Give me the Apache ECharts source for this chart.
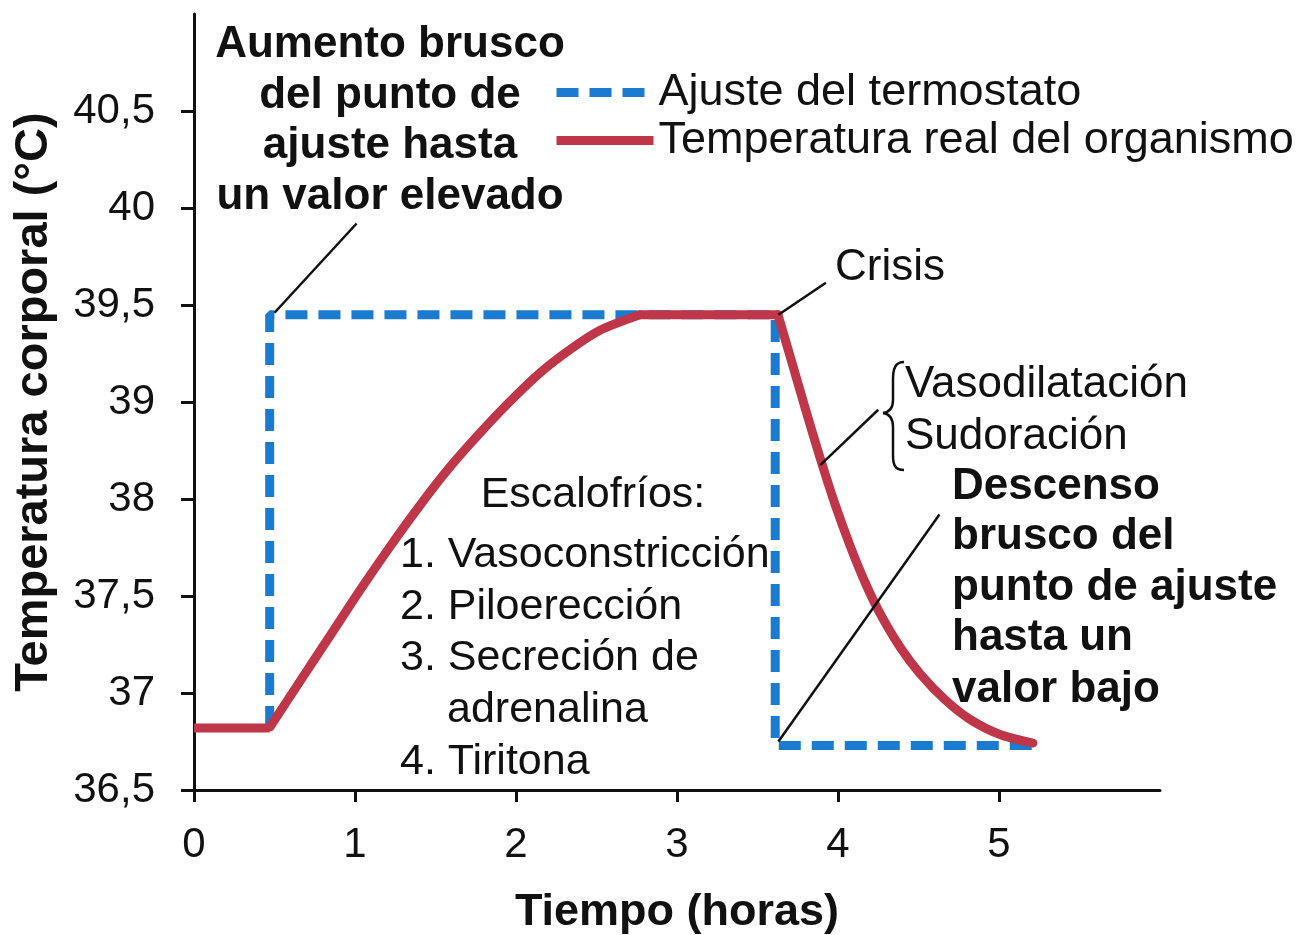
<!DOCTYPE html>
<html><head><meta charset="utf-8">
<script src="https://cdn.jsdelivr.net/npm/echarts@6/dist/echarts.min.js"></script>
<style>html,body{margin:0;padding:0;background:#fff}#c{width:1306px;height:935px}</style>
</head><body><div id="c"></div>
<script>
// ---- data ----
const yTickLabels = ['36,5','37','37,5','38','39','39,5','40','40,5'];
const yTickTemps  = [36.5, 37, 37.5, 38, 39, 39.5, 40, 40.5];
const xTicks = [0, 1, 2, 3, 4, 5];
const seriesNames = ['Ajuste del termostato', 'Temperatura real del organismo'];

// thermostat set point (blue dashed)
const setpointTime = [0.47, 0.47, 3.61, 3.61, 5.21];
const setpointTemp = [36.82, 39.45, 39.45, 36.73, 36.73];

// body temperature (red): baseline, rise, plateau, fall
const baseTime = [0, 0.47];
const baseTemp = [36.82, 36.82];
const riseTime = [0.472, 0.658, 0.845, 1.031, 1.217, 1.404, 1.590, 1.776, 1.963, 2.149, 2.335, 2.522, 2.770];
const riseTemp = [36.825, 37.06, 37.295, 37.53, 37.754, 37.968, 38.33, 38.68, 39.003, 39.15, 39.27, 39.37, 39.45];
const plateauTime = [2.77, 3.627];
const plateauTemp = [39.45, 39.45];
const fallTime = [3.627, 3.702, 3.795, 3.888, 3.981, 4.075, 4.168, 4.261, 4.385, 4.509, 4.665, 4.820, 5.006, 5.211];
const fallTemp = [39.45, 39.237, 38.943, 38.428, 37.974, 37.759, 37.57, 37.41, 37.237, 37.10, 36.965, 36.864, 36.786, 36.742];

// leader lines [time1, temp1, time2, temp2]
const leaderLines = [
  [1.01, 39.92, 0.50, 39.46],
  [3.63, 39.45, 3.925, 39.615],
  [3.89, 38.35, 4.25, 38.92],
  [3.63, 36.75, 4.63, 37.92]
];

// temperature -> position on the (uneven) printed scale
function yi(t) {
  const n = yTickTemps.length;
  for (let i = 0; i < n - 1; i++) {
    if (t <= yTickTemps[i + 1]) return i + (t - yTickTemps[i]) / (yTickTemps[i + 1] - yTickTemps[i]);
  }
  return (n - 1) + (t - yTickTemps[n - 1]) / (yTickTemps[n - 1] - yTickTemps[n - 2]);
}
const zip = (xs, ts) => xs.map((x, i) => [x, yi(ts[i])]);

const FONT = '"Liberation Sans", Arial, Helvetica, sans-serif';
const INK = '#111';
const BLUE = '#1a7bd0';
const RED = '#bf3648';
const LW = 9;

function txt(s, x, y, size, bold, align) {
  return { type: 'text', z: 50, style: {
    text: s, x: x, y: y, fill: INK,
    font: (bold ? 'bold ' : '') + size + 'px ' + FONT,
    textAlign: align || 'left', textVerticalAlign: 'middle'
  }};
}
const braceStyle = { fill: null, stroke: INK, lineWidth: 2.5 };
function bz(x1, y1, cx1, cy1, cx2, cy2, x2, y2) {
  return { type: 'bezierCurve', z: 50, shape: { x1, y1, cpx1: cx1, cpy1: cy1, cpx2: cx2, cpy2: cy2, x2, y2 }, style: braceStyle };
}
function ln(x1, y1, x2, y2) {
  return { type: 'line', z: 50, shape: { x1, y1, x2, y2 }, style: braceStyle };
}
function redPart(xs, ts, smooth) {
  return { name: seriesNames[1], type: 'line', data: zip(xs, ts), symbol: 'none', z: 3, color: RED,
    smooth: smooth, lineStyle: { color: RED, width: LW, join: 'round', cap: 'round' } };
}

const red0 = redPart(baseTime, baseTemp, false);
red0.lineStyle.cap = 'butt';
red0.markLine = {
  silent: true, symbol: ['none', 'none'], label: { show: false },
  lineStyle: { color: INK, width: 2.5, type: 'solid' },
  data: leaderLines.map(l => [{ coord: [l[0], yi(l[1])] }, { coord: [l[2], yi(l[3])] }])
};

const chart = echarts.init(document.getElementById('c'));
chart.setOption({
  animation: false,
  backgroundColor: '#fff',
  grid: { left: 194, right: 146, top: 14, bottom: 145, containLabel: false, outerBoundsMode: 'none' },
  legend: {
    data: seriesNames, orient: 'vertical', left: 547, top: 65,
    itemWidth: 97, itemHeight: 14, itemGap: 3,
    itemStyle: { opacity: 0 },
    lineStyle: { width: LW },
    textStyle: { fontSize: 45, color: INK, fontFamily: FONT, padding: [0, 0, 0, 0] },
    selectedMode: false
  },
  xAxis: {
    type: 'value', min: 0, max: 6,
    name: 'Tiempo (horas)', nameLocation: 'middle', nameGap: 100,
    nameTextStyle: { fontSize: 45, fontWeight: 'bold', color: INK, fontFamily: FONT },
    axisLine: { lineStyle: { color: INK, width: 3 } },
    axisTick: { length: 12, lineStyle: { color: INK, width: 3 }, customValues: xTicks },
    axisLabel: { fontSize: 42, color: INK, fontFamily: FONT, margin: 34, customValues: xTicks },
    splitLine: { show: false }
  },
  yAxis: {
    type: 'value', min: 0, max: 8,
    name: 'Temperatura corporal (°C)', nameLocation: 'middle', nameGap: 136, nameRotate: 90,
    nameTextStyle: { fontSize: 47, fontWeight: 'bold', color: INK, fontFamily: FONT },
    axisLine: { lineStyle: { color: INK, width: 3 } },
    axisTick: { length: 13, lineStyle: { color: INK, width: 3 }, customValues: yTickLabels.map((_, i) => i) },
    axisLabel: { fontSize: 42, color: INK, fontFamily: FONT, margin: 39,
      customValues: yTickLabels.map((_, i) => i),
      formatter: v => yTickLabels[Math.round(v)] || '' },
    splitLine: { show: false }
  },
  series: [
    { name: seriesNames[0], type: 'line', data: zip(setpointTime, setpointTemp),
      symbol: 'none', z: 2, color: BLUE,
      lineStyle: { color: BLUE, width: LW, type: [22, 11], cap: 'butt' } },
    red0,
    redPart(riseTime, riseTemp, 0.3),
    redPart(plateauTime, plateauTemp, false),
    redPart(fallTime, fallTemp, 0.3)
  ],
  graphic: [
    txt('Aumento brusco', 390, 45, 44, true, 'center'),
    txt('del punto de', 390, 96, 44, true, 'center'),
    txt('ajuste hasta', 390, 146, 44, true, 'center'),
    txt('un valor elevado', 390, 197, 44, true, 'center'),
    txt('Crisis', 835, 268, 44, false),
    txt('Vasodilatación', 905, 385, 44, false),
    txt('Sudoración', 905, 437, 44, false),
    txt('Descenso', 952, 487, 44, true),
    txt('brusco del', 952, 537, 44, true),
    txt('punto de ajuste', 952, 588, 44, true),
    txt('hasta un', 952, 638, 44, true),
    txt('valor bajo', 952, 690, 44, true),
    txt('Escalofríos:', 593, 495, 43, false, 'center'),
    txt('1. Vasoconstricción', 400, 555, 43, false),
    txt('2. Piloerección', 400, 607, 43, false),
    txt('3. Secreción de', 400, 658, 43, false),
    txt('adrenalina', 447, 710, 43, false),
    txt('4. Tiritona', 400, 762, 43, false),
    bz(904, 362, 895, 362, 893, 369, 893, 380),
    ln(893, 380, 893, 400),
    bz(893, 400, 893, 408, 890, 412, 883, 413),
    bz(883, 413, 890, 414, 893, 419, 893, 427),
    ln(893, 427, 893, 455),
    bz(893, 455, 893, 465, 895, 470, 904, 470)
  ]
});
</script>
</body></html>
